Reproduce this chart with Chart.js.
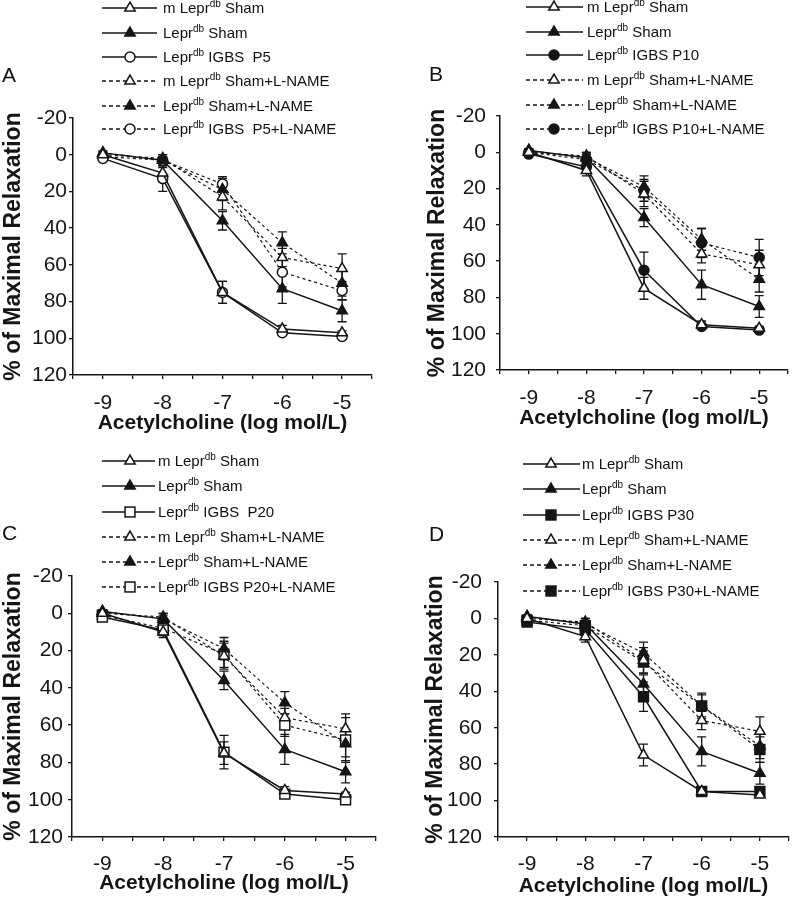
<!DOCTYPE html>
<html><head><meta charset="utf-8">
<script src="https://cdn.jsdelivr.net/npm/chart.js@4.4.0/dist/chart.umd.min.js"></script>
<style>
html,body{margin:0;padding:0;background:#fff}
body{width:800px;height:899px;position:relative;overflow:hidden;font-family:"Liberation Sans",Arial,sans-serif;color:#111}
canvas{position:absolute}
.row{position:absolute;height:16px;white-space:pre;font-size:15px;line-height:16px}
.row svg{position:absolute;left:0;top:0}
.row span{position:absolute;top:0}
.row sup{font-size:10px;line-height:0;vertical-align:6px}
.letter{position:absolute;font-size:21px;line-height:21px}
</style></head><body>
<script>
// ---------- data ----------
const doses = [-9, -8, -7, -6, -5];               // log mol/L
const yTicksRange = [-20, 120];                    // % of maximal relaxation axis

// shared sham groups (same in all four panels)
const mSham        = [0, 10, 75, 95, 97];
const mShamErr     = [1, 3, 6, 2, 1];
const leprSham     = [-1, 3, 36, 73, 85];
const leprShamErr  = [1, 3, 5, 8, 6];
const mShamLN      = [0, 2, 23, 56, 62];
const mShamLNErr   = [1, 2, 7, 5, 8];
const leprShamLN   = [-1, 3, 19, 48, 70];
const leprShamLNErr= [1, 2, 6, 6, 7];

// IGBS groups
const igbsP5       = [2, 13, 75, 97, 99];
const igbsP5Err    = [1, 7, 6, 1, 1];
const igbsP5LN     = [1, 3, 16, 64, 74];
const igbsP5LNErr  = [1, 2, 4, 8, 5];

const igbsP10      = [1, 8, 65, 96, 98];
const igbsP10Err   = [1, 3, 10, 1, 1];
const igbsP10LN    = [0, 4, 21, 50, 58];
const igbsP10LNErr = [1, 3, 6, 8, 10];

const igbsP20      = [2, 9, 74.5, 97, 100];
const igbsP20Err   = [1, 3, 9, 1, 1];
const igbsP20LN    = [1, 8, 22, 60, 68];
const igbsP20LNErr = [1, 3, 7, 6, 12];

const igbsP30      = [2, 6, 43, 95, 95];
const igbsP30Err   = [1, 3, 8, 1, 2];
const igbsP30LN    = [1, 4, 24, 48, 72];
const igbsP30LNErr = [1, 2, 6, 7, 7];

const labelsA = ['m Leprdb Sham','Leprdb Sham','Leprdb IGBS  P5','m Leprdb Sham+L-NAME','Leprdb Sham+L-NAME','Leprdb IGBS  P5+L-NAME'];
const labelsB = ['m Leprdb Sham','Leprdb Sham','Leprdb IGBS P10','m Leprdb Sham+L-NAME','Leprdb Sham+L-NAME','Leprdb IGBS P10+L-NAME'];
const labelsC = ['m Leprdb Sham','Leprdb Sham','Leprdb IGBS  P20','m Leprdb Sham+L-NAME','Leprdb Sham+L-NAME','Leprdb IGBS P20+L-NAME'];
const labelsD = ['m Leprdb Sham','Leprdb Sham','Leprdb IGBS P30','m Leprdb Sham+L-NAME','Leprdb Sham+L-NAME','Leprdb IGBS P30+L-NAME'];

const xTitle = 'Acetylcholine (log mol/L)';
const yTitle = '% of Maximal Relaxation';

// ---------- layout / style ----------
const INK = '#151515';
const panels = [
  {letter:'A', labels:labelsA, igbs:[igbsP5, igbsP5Err, igbsP5LN, igbsP5LNErr], igbsStyle:'circle', igbsFilled:false,
   box:{l:0,t:0,w:400,h:445}, pad:{l:0,t:118,r:28}, yW:73, xH:70, yTickPad:2, xTickPad:12, xTitlePad:9,
   leg:{x0:102,x1:157,tx:163,ys:[8,33,57,81,106,129]}, let:{x:2,y:64}},
  {letter:'B', labels:labelsB, igbs:[igbsP10, igbsP10Err, igbsP10LN, igbsP10LNErr], igbsStyle:'circle', igbsFilled:true,
   box:{l:400,t:0,w:400,h:445}, pad:{l:24,t:116,r:2}, yW:76, xH:75, yTickPad:10, xTickPad:12, xTitlePad:14,
   leg:{x0:526,x1:583,tx:587,ys:[7,32,55,80,105,129]}, let:{x:429,y:63}},
  {letter:'C', labels:labelsC, igbs:[igbsP20, igbsP20Err, igbsP20LN, igbsP20LNErr], igbsStyle:'rect', igbsFilled:false,
   box:{l:0,t:445,w:400,h:454}, pad:{l:0,t:131,r:24}, yW:72, xH:62, yTickPad:5, xTickPad:11, xTitlePad:3,
   leg:{x0:102,x1:155,tx:158,ys:[461,486,512,537,562,587]}, let:{x:2,y:522}},
  {letter:'D', labels:labelsD, igbs:[igbsP30, igbsP30Err, igbsP30LN, igbsP30LNErr], igbsStyle:'rect', igbsFilled:true,
   box:{l:400,t:445,w:400,h:454}, pad:{l:22,t:137,r:3}, yW:76, xH:62, yTickPad:12, xTickPad:11, xTitlePad:0,
   leg:{x0:523,x1:580,tx:582,ys:[464,489,515,540,565,591]}, let:{x:429,y:523}}
];

function radiusFor(style){ return style === 'triangle' ? 6 : (style === 'rect' ? 7 : 5); }

// error bar plugin: uses the chart's own scales
const errorBars = {
  id: 'errorBars',
  beforeDatasetsDraw(chart) {
    const ctx = chart.ctx, xs = chart.scales.x, ys = chart.scales.y;
    ctx.save();
    ctx.strokeStyle = INK; ctx.lineWidth = 1.3; ctx.setLineDash([]);
    chart.data.datasets.forEach(ds => {
      (ds.data || []).forEach((p, i) => {
        const e = ds.errors[i];
        if (!e) return;
        const x = xs.getPixelForValue(p.x);
        const y1 = ys.getPixelForValue(p.y - e), y2 = ys.getPixelForValue(p.y + e);
        ctx.beginPath();
        ctx.moveTo(x, y1); ctx.lineTo(x, y2);
        ctx.moveTo(x - 4.5, y1); ctx.lineTo(x + 4.5, y1);
        ctx.moveTo(x - 4.5, y2); ctx.lineTo(x + 4.5, y2);
        ctx.stroke();
      });
    });
    ctx.restore();
  }
};

function series(label, vals, errs, style, filled, dashed) {
  return {
    label: label,
    data: doses.map((d, i) => ({x: d, y: vals[i]})),
    errors: errs,
    borderColor: INK,
    borderWidth: dashed ? 1.2 : 1.5,
    borderDash: dashed ? [3, 3] : [],
    pointStyle: style,
    pointRadius: radiusFor(style),
    pointBorderWidth: 1.5,
    pointBorderColor: INK,
    pointBackgroundColor: filled ? INK : '#fff',
    fill: false,
    tension: 0
  };
}

function markerSVG(style, filled, dashed, len) {
  const cx = 28, cy = 8, r = radiusFor(style);
  const fill = filled ? INK : '#fff';
  let m;
  if (style === 'triangle') {
    const h = r * Math.sqrt(3) / 2;
    m = `<polygon points="${cx},${cy - r} ${cx + h},${cy + r / 2} ${cx - h},${cy + r / 2}" fill="${fill}" stroke="${INK}" stroke-width="1.5"/>`;
  } else if (style === 'rect') {
    const s = r * Math.SQRT1_2;
    m = `<rect x="${cx - s}" y="${cy - s}" width="${2 * s}" height="${2 * s}" fill="${fill}" stroke="${INK}" stroke-width="1.5"/>`;
  } else {
    m = `<circle cx="${cx}" cy="${cy}" r="${r}" fill="${fill}" stroke="${INK}" stroke-width="1.5"/>`;
  }
  const dash = dashed ? ' stroke-dasharray="4 3"' : '';
  return `<svg width="${len}" height="16"><line x1="0" y1="8" x2="${len}" y2="8" stroke="${INK}" stroke-width="1.5"${dash}/>${m}</svg>`;
}

function fmtLabel(s) {
  return s.replace('Leprdb', 'Lepr<sup>db</sup>');
}

panels.forEach((P, k) => {
  const cv = document.createElement('canvas');
  cv.width = P.box.w; cv.height = P.box.h;
  cv.style.left = P.box.l + 'px'; cv.style.top = P.box.t + 'px';
  cv.style.width = P.box.w + 'px'; cv.style.height = P.box.h + 'px';
  document.body.appendChild(cv);

  const [iv, ie, ilv, ile] = P.igbs;
  const defs = [
    [P.labels[0], mSham, mShamErr, 'triangle', false, false],
    [P.labels[1], leprSham, leprShamErr, 'triangle', true, false],
    [P.labels[2], iv, ie, P.igbsStyle, P.igbsFilled, false],
    [P.labels[3], mShamLN, mShamLNErr, 'triangle', false, true],
    [P.labels[4], leprShamLN, leprShamLNErr, 'triangle', true, true],
    [P.labels[5], ilv, ile, P.igbsStyle, P.igbsFilled, true]
  ];
  const datasets = defs.map(d => series(d[0], d[1], d[2], d[3], d[4], d[5]));

  new Chart(cv, {
    type: 'line',
    data: { datasets },
    plugins: [errorBars],
    options: {
      responsive: false, animation: false, devicePixelRatio: 1,
      layout: { padding: { left: P.pad.l, top: P.pad.t, right: P.pad.r, bottom: 0 } },
      plugins: { legend: { display: false }, tooltip: { enabled: false } },
      scales: {
        x: {
          type: 'linear', min: -9.5, max: -4.5,
          afterFit: s => { s.height = P.xH; },
          border: { display: true, color: INK, width: 1.5 },
          grid: { display: true, drawOnChartArea: false, drawTicks: true, tickLength: 4, color: INK, lineWidth: 1.3 },
          ticks: { stepSize: 0.5, autoSkip: false, maxRotation: 0, padding: P.xTickPad, color: INK,
                   font: { family: '"Liberation Sans", Arial, sans-serif', size: 21 },
                   callback: v => Number.isInteger(v) ? String(v) : '' },
          title: { display: true, text: xTitle, color: INK, padding: { top: 0, bottom: P.xTitlePad },
                   font: { family: '"Liberation Sans", Arial, sans-serif', size: 21, weight: 'bold' } }
        },
        y: {
          type: 'linear', reverse: true, min: yTicksRange[0], max: yTicksRange[1],
          afterFit: s => { s.width = P.yW; },
          border: { display: true, color: INK, width: 1.5 },
          grid: { display: true, drawOnChartArea: false, drawTicks: true, tickLength: 4, color: INK, lineWidth: 1.3 },
          ticks: { stepSize: 20, padding: P.yTickPad, color: INK,
                   font: { family: '"Liberation Sans", Arial, sans-serif', size: 21 } },
          title: { display: true, text: yTitle, color: INK, padding: { top: 0, bottom: 0 },
                   font: { family: '"Liberation Sans", Arial, sans-serif', size: 23, weight: 'bold' } }
        }
      }
    }
  });

  // panel letter
  const L = document.createElement('div');
  L.className = 'letter'; L.textContent = P.letter;
  L.style.left = P.let.x + 'px'; L.style.top = P.let.y + 'px';
  document.body.appendChild(L);

  // legend rows
  const len = P.leg.x1 - P.leg.x0;
  defs.forEach((d, i) => {
    const row = document.createElement('div');
    row.className = 'row';
    row.style.left = P.leg.x0 + 'px';
    row.style.top = (P.leg.ys[i] - 8) + 'px';
    row.innerHTML = markerSVG(d[3], d[4], d[5], len) +
      `<span style="left:${P.leg.tx - P.leg.x0}px">${fmtLabel(d[0])}</span>`;
    document.body.appendChild(row);
  });
});
</script>
</body></html>
